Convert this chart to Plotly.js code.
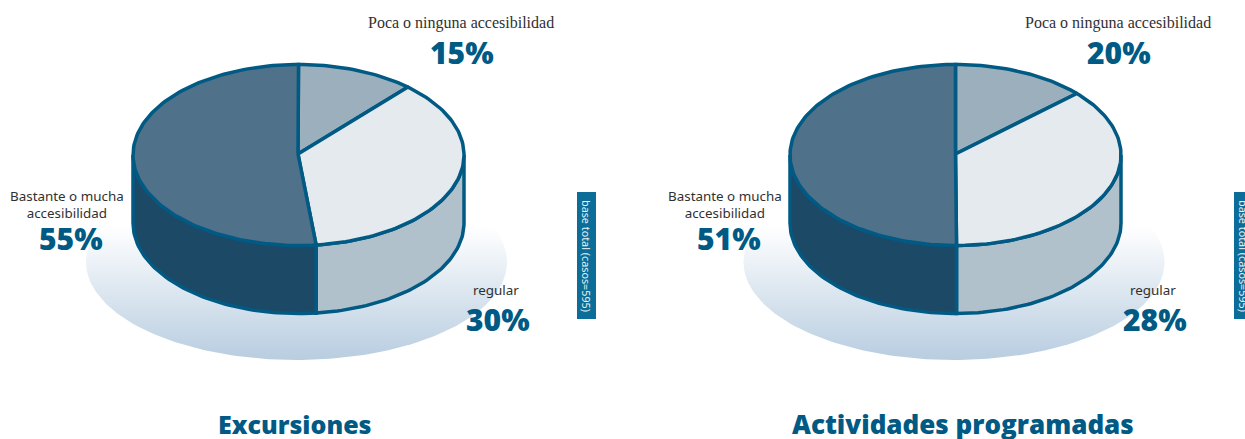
<!DOCTYPE html>
<html><head><meta charset="utf-8">
<script src="https://cdn.plot.ly/plotly-3.0.1.min.js"></script>
<style>html,body{margin:0;padding:0;background:#fff;overflow:hidden}</style>
</head><body><div id="chart" style="width:1245px;height:439px"></div>
<script>
// Category labels
const categories = ["Poca o ninguna accesibilidad", "regular", "Bastante o mucha<br>accesibilidad"];
const chartTitles = ["Excursiones", "Actividades programadas"];
const baseLabel = "base total (casos=595)";
// Printed percentages
const printedExcursiones = [15, 30, 55];
const printedActividades = [20, 28, 51];
// Slice shares as they are actually drawn in the picture (the picture's wedges differ from the print)
const drawnExcursiones = [11.5, 36.8, 51.7];
const drawnActividades = [13.1, 36.8, 50.1];

const W = 1245, H = 439;
const INK = "#005a84", BAR = "#0b6d98", TXT = "#303030";
const topCols = ["#9bafbc", "#e5eaee", "#4f7189"];
const wallCols = [null, "#b1c1cc", "#1c4966"];
const rx = 165.5, ry = 90.5, depth = 68, LW = 3.5;
const traces = [], annotations = [], shapes = [];

function arc(cx, cy, a0, a1, rX, rY) {
  const n = Math.max(2, Math.ceil(Math.abs(a1 - a0) / 1.5));
  const xs = [], ys = [];
  for (let i = 0; i <= n; i++) {
    const a = (a0 + (a1 - a0) * i / n) * Math.PI / 180;
    xs.push(cx + rX * Math.sin(a));
    ys.push(cy - rY * Math.cos(a));
  }
  return [xs, ys];
}
function poly(xs, ys, fill) {
  traces.push({type: "scatter", mode: "lines", x: xs, y: ys, fill: "toself", fillcolor: fill,
    line: {color: INK, width: LW, shape: "linear"}, hoverinfo: "skip", showlegend: false});
}
const SERIF = "Liberation Serif", SANS = "Noto Sans", BOLD = "Open Sans";
function note(x, y, text, size, color, family, weight, extra) {
  annotations.push(Object.assign({x, y, xref: "x", yref: "y", text, showarrow: false,
    font: {size, color, family, weight: weight || 400}, xanchor: "center", yanchor: "middle"}, extra || {}));
}

function pie(cx, cy, shares, printed, title, offs) {
  // soft gradient shadow
  const [sx, sy] = arc(offs.sx, 262, 0, 360, 210.5, 98);
  traces.push({type: "scatter", mode: "lines", x: sx, y: sy, fill: "toself",
    line: {width: 0, color: "rgba(0,0,0,0)"}, hoverinfo: "skip", showlegend: false,
    fillgradient: {type: "vertical", start: 226, stop: 360,
      colorscale: [[0, "#ffffff"], [1, "#b8cde0"]]}});
  // cumulative angles
  const total = shares.reduce((a, b) => a + b, 0);
  const ang = [0];
  shares.forEach(s => ang.push(ang[ang.length - 1] + s / total * 360));
  // walls (visible half only)
  [[90, ang[2], 1], [ang[2], 270, 2]].forEach(([a0, a1, k]) => {
    const [tx, ty] = arc(cx, cy, a0, a1, rx, ry);
    const bx = tx.slice().reverse();
    const by = ty.slice().reverse().map(v => v + depth);
    poly(tx.concat(bx, [tx[0]]), ty.concat(by, [ty[0]]), wallCols[k]);
  });
  // top wedges
  shares.forEach((s, k) => {
    const [tx, ty] = arc(cx, cy, ang[k], ang[k + 1], rx, ry);
    poly([offs.apex].concat(tx, [offs.apex]), [cy - 1].concat(ty, [cy - 1]), topCols[k]);
  });
  // texts
  note(offs.t0, 23, categories[0], 16, TXT, SERIF);
  note(offs.t0 + 1, 52, printed[0] + "%", 30, INK, BOLD, 800);
  note(offs.t1, 290, categories[1], 13.4, TXT, SANS);
  note(offs.t1 + 2, 319, printed[1] + "%", 30, INK, BOLD, 800);
  note(offs.t2, 204, categories[2], 13.4, TXT, SANS);
  note(offs.t2 + 4, 238, printed[2] + "%", 30, INK, BOLD, 800);
  note(offs.title, 424, title, offs.ts, INK, BOLD, 800);
  // side tab
  shapes.push({type: "rect", xref: "x", yref: "y", x0: offs.bar, x1: offs.bar + 19, y0: 192, y1: 319,
    fillcolor: BAR, line: {width: 0}, layer: "above"});
  note(offs.bar + 9.5, 255.5, baseLabel, 10.8, "#e8f1f5", SANS, 400, {textangle: 90});
}

pie(298.5, 155, drawnExcursiones, printedExcursiones, chartTitles[0],
  {sx: 296.5, apex: 298, t0: 461, t1: 496, t2: 67, title: 295, ts: 25, bar: 577});
pie(955.5, 155, drawnActividades, printedActividades, chartTitles[1],
  {sx: 954, apex: 955.5, t0: 1118, t1: 1153, t2: 725, title: 963, ts: 26, bar: 1234});

const hidden = {visible: false, fixedrange: true};
Plotly.newPlot("chart", traces, {
  width: W, height: H, margin: {l: 0, r: 0, t: 0, b: 0},
  paper_bgcolor: "#fff", plot_bgcolor: "#fff", showlegend: false,
  xaxis: Object.assign({range: [0, W]}, hidden),
  yaxis: Object.assign({range: [H, 0]}, hidden),
  annotations, shapes
}, {staticPlot: true, displayModeBar: false});
</script></body></html>
